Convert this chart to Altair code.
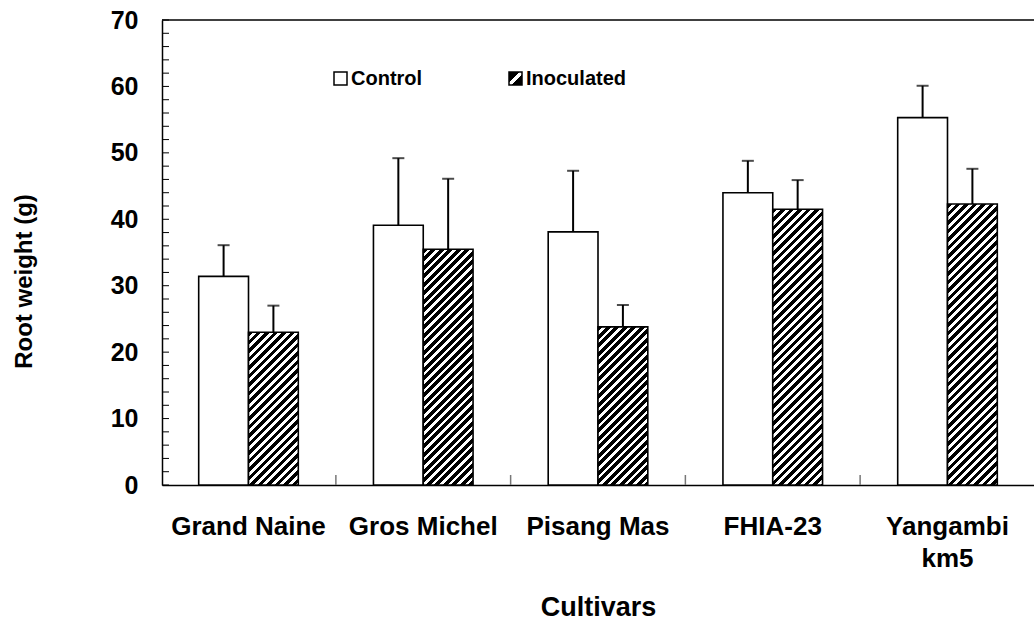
import altair as alt

cultivars = ["Grand Naine", "Gros Michel", "Pisang Mas", "FHIA-23", "Yangambi km5"]
treatments = ["Control", "Inoculated"]
control_mean = [31.4, 39.1, 38.1, 44.0, 55.3]
control_err = [4.7, 10.1, 9.2, 4.8, 4.8]
inoc_mean = [23.0, 35.5, 23.8, 41.5, 42.3]
inoc_err = [4.0, 10.6, 3.3, 4.4, 5.3]
y_labels = [0, 10, 20, 30, 40, 50, 60, 70]
y_minor = list(range(0, 71, 2))

FONT = "Liberation Sans"
W, H = 872, 465
YMAX = 70
PI, PO = 0.43, 0.21
step = W / (len(cultivars) - PI + 2 * PO)
bar_w = step * (1 - PI) / 2


def hatch(w, h, period=8.5, black=0.55):
    L = w + h
    k = L / (w * w + h * h)
    stops = []
    s = 0.0
    while s < L - 1e-9:
        b_end = min(s + period * black, L)
        w_end = min(s + period, L)
        stops += [
            {"offset": s / L, "color": "black"},
            {"offset": b_end / L, "color": "black"},
            {"offset": b_end / L, "color": "white"},
            {"offset": w_end / L, "color": "white"},
        ]
        s += period
    return {"gradient": "linear", "x1": 0, "y1": 0, "x2": w * k, "y2": h * k, "stops": stops}


records = []
for i, c in enumerate(cultivars):
    records.append({"cultivar": c, "treatment": "Control", "mean": control_mean[i],
                    "upper": control_mean[i] + control_err[i], "fill": "white"})
    records.append({"cultivar": c, "treatment": "Inoculated", "mean": inoc_mean[i],
                    "upper": inoc_mean[i] + inoc_err[i],
                    "fill": hatch(bar_w, inoc_mean[i] * H / YMAX)})

base = alt.Chart(alt.Data(values=records))

x_enc = alt.X(
    "cultivar:N", sort=cultivars,
    scale=alt.Scale(paddingInner=PI, paddingOuter=PO),
    axis=alt.Axis(
        title="Cultivars", labelAngle=0, ticks=False, domain=True, domainColor="black",
        domainWidth=1.5, labelPadding=28, labelLineHeight=32,
        labelExpr="datum.value == 'Yangambi km5' ? ['Yangambi', 'km5'] : datum.label",
        labelFontSize=26, titleFontSize=27, titleY=122, titleBaseline="middle",
    ),
)
xo = alt.XOffset("treatment:N", sort=treatments, scale=alt.Scale(paddingInner=0, paddingOuter=0))
y_scale = alt.Scale(domain=[0, YMAX], nice=False, zero=True)
y_axis = alt.Axis(
    title="Root weight (g)", values=y_labels, ticks=False, grid=False, domain=True,
    domainColor="black", domainWidth=1.5, labelPadding=24, labelFontSize=25,
    titleFontSize=24, titleX=-138, titleY=261, titleBaseline="middle", titleAlign="center",
)

bars = base.mark_bar(stroke="black", strokeWidth=1.6).encode(
    x=x_enc, xOffset=xo,
    y=alt.Y("mean:Q", scale=y_scale, axis=y_axis),
    fill=alt.Fill("fill:N", scale=None),
)
err = base.mark_rule(color="black", strokeWidth=2).encode(
    x=alt.X("cultivar:N", sort=cultivars), xOffset=xo,
    y=alt.Y("mean:Q", title="Root weight (g)"), y2="upper:Q",
)
caps = base.mark_tick(color="black", thickness=2, size=12, orient="horizontal").encode(
    x=alt.X("cultivar:N", sort=cultivars), xOffset=xo,
    y=alt.Y("upper:Q", title="Root weight (g)"),
)

yticks = alt.Chart(alt.Data(values=[{"v": v} for v in y_minor])).mark_rule(
    color="black", strokeWidth=1
).encode(y=alt.Y("v:Q", title="Root weight (g)"), x=alt.value(0), x2=alt.value(7))

xticks = alt.Chart(alt.Data(values=[{"cultivar": c} for c in cultivars[:-1]])).mark_rule(
    color="#777", strokeWidth=1.5, xOffset=step / 2
).encode(x=alt.X("cultivar:N", sort=cultivars), y=alt.value(H - 10), y2=alt.value(H))

top = alt.Chart(alt.Data(values=[{"v": YMAX}])).mark_rule(color="black", strokeWidth=1.5).encode(
    y=alt.Y("v:Q", title="Root weight (g)"), x=alt.value(0), x2=alt.value(W)
)

legend_icon_fill = {"gradient": "linear", "x1": 0, "y1": 0, "x2": 1, "y2": 1,
                    "stops": [{"offset": 0, "color": "black"}, {"offset": 0.42, "color": "black"},
                              {"offset": 0.42, "color": "white"}, {"offset": 0.6, "color": "white"},
                              {"offset": 0.6, "color": "black"}, {"offset": 1, "color": "black"}]}

one = alt.Data(values=[{"k": 1}])
leg_c_icon = alt.Chart(one).mark_rect(fill="white", stroke="black", strokeWidth=1.5).encode(
    x=alt.value(172), x2=alt.value(185), y=alt.value(52), y2=alt.value(65))
leg_c_text = alt.Chart(one).mark_text(
    align="left", baseline="middle", font=FONT, fontSize=20, fontWeight="bold", color="black"
).encode(x=alt.value(189), y=alt.value(58.5), text=alt.value("Control"))
leg_i_icon = alt.Chart(one).mark_rect(fill=legend_icon_fill, stroke="black", strokeWidth=1.5).encode(
    x=alt.value(347), x2=alt.value(360), y=alt.value(52), y2=alt.value(65))
leg_i_text = alt.Chart(one).mark_text(
    align="left", baseline="middle", font=FONT, fontSize=20, fontWeight="bold", color="black"
).encode(x=alt.value(364), y=alt.value(58.5), text=alt.value("Inoculated"))

chart = alt.layer(
    bars, err, caps, yticks, xticks, top, leg_c_icon, leg_c_text, leg_i_icon, leg_i_text
).properties(
    width=W, height=H,
    padding={"left": 162, "top": 20, "right": 0, "bottom": 136},
    autosize=alt.AutoSizeParams(type="none"),
    background="white",
).configure_view(stroke=None).configure_axis(
    labelFont=FONT, titleFont=FONT, labelFontWeight="bold", titleFontWeight="bold",
    labelColor="black", titleColor="black",
)

chart.save("out.html", embed_options={"renderer": "svg", "actions": False})
